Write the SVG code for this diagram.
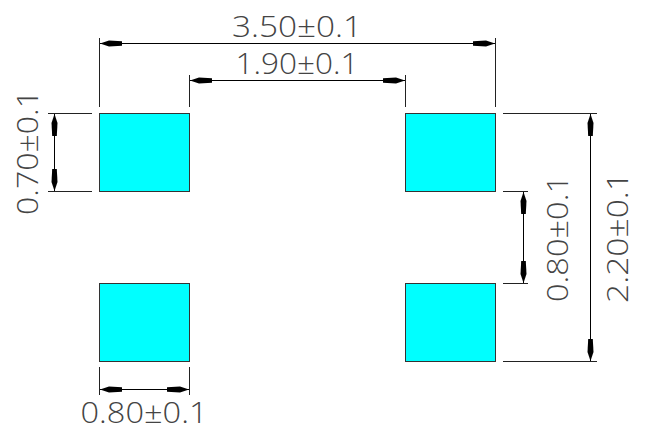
<svg xmlns="http://www.w3.org/2000/svg" width="647" height="433" viewBox="0 0 647 433">
<defs>
<marker id="ar" viewBox="0 0 22 7" refX="22" refY="3.5" markerWidth="22" markerHeight="7" markerUnits="userSpaceOnUse" orient="auto-start-reverse">
<path d="M22,3.5 L13,0.5 L0,1.2 L0,5.8 L13,6.5 Z" fill="#000"/>
</marker>
<style>
.pad{fill:#00FFFF;stroke:#333;stroke-width:1}
.ext{stroke:#222;stroke-width:1;fill:none}
.dim{stroke:#000;stroke-width:1;fill:none;marker-start:url(#ar);marker-end:url(#ar)}
.t{font-family:"Open Sans","Liberation Sans",sans-serif;font-weight:300;font-size:29px;fill:#444;text-anchor:middle}
</style>
</defs>
<rect width="647" height="433" fill="#fff"/>
<g id="pad-tl"><rect class="pad" x="99.5" y="113.5" width="90" height="78"/></g>
<g id="pad-tr"><rect class="pad" x="405.5" y="113.5" width="90" height="78"/></g>
<g id="pad-bl"><rect class="pad" x="99.5" y="283.5" width="90" height="78"/></g>
<g id="pad-br"><rect class="pad" x="405.5" y="283.5" width="90" height="78"/></g>
<g id="connectors">
<path class="ext" d="M99.5,38 V107 M495.5,38 V107 M189.5,75 V107 M405.5,75 V107"/>
<path class="ext" d="M48,113.5 H92 M48,191.5 H92"/>
<path class="ext" d="M99.5,367 V395 M189.5,367 V395"/>
<path class="ext" d="M503,113.5 H597 M503,361.5 H597 M503,191.5 H528 M503,283.5 H528"/>
<path class="dim" d="M100,43.5 H495"/>
<path class="dim" d="M190,80.5 H405"/>
<path class="dim" d="M54.5,114 V191"/>
<path class="dim" d="M100,389.5 H189"/>
<path class="dim" d="M523.5,192 V283"/>
<path class="dim" d="M590.5,114 V361"/>
</g>
<g id="labels">
<text class="t" x="297" y="37" textLength="130" lengthAdjust="spacingAndGlyphs">3.50±0.1</text>
<text class="t" x="297" y="74" textLength="123" lengthAdjust="spacingAndGlyphs">1.90±0.1</text>
<text class="t" x="144" y="423" textLength="127" lengthAdjust="spacingAndGlyphs">0.80±0.1</text>
<text class="t" transform="translate(38,152.5) rotate(-90)" x="0" y="0" textLength="125" lengthAdjust="spacingAndGlyphs">0.70±0.1</text>
<text class="t" transform="translate(568,238.5) rotate(-90)" x="0" y="0" textLength="127" lengthAdjust="spacingAndGlyphs">0.80±0.1</text>
<text class="t" transform="translate(628,237.5) rotate(-90)" x="0" y="0" textLength="131" lengthAdjust="spacingAndGlyphs">2.20±0.1</text>
</g>
</svg>
